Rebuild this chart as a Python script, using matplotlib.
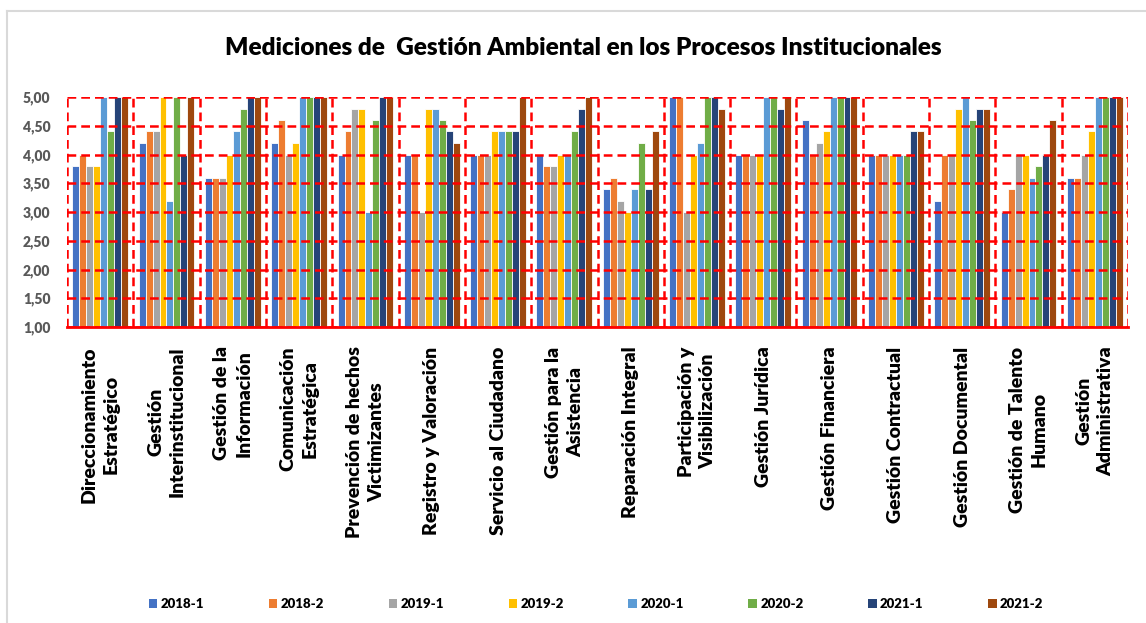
import matplotlib
matplotlib.use("Agg")
import matplotlib.pyplot as plt
import numpy as np
from matplotlib.lines import Line2D
from matplotlib.patches import Patch

plt.rcParams['font.family'] = ['Lato', 'DejaVu Sans']
WEIGHT = "heavy"

categories = [
    "Direccionamiento\nEstratégico",
    "Gestión\nInterinstitucional",
    "Gestión de la\nInformación",
    "Comunicación\nEstratégica",
    "Prevención de hechos\nVictimizantes",
    "Registro y Valoración",
    "Servicio al Ciudadano",
    "Gestión para la\nAsistencia",
    "Reparación Integral",
    "Participación y\nVisibilización",
    "Gestión Jurídica",
    "Gestión Financiera",
    "Gestión Contractual",
    "Gestión Documental",
    "Gestión de Talento\nHumano",
    "Gestión\nAdministrativa",
]

series_names = ["2018-1", "2018-2", "2019-1", "2019-2", "2020-1", "2020-2", "2021-1", "2021-2"]
colors = ["#4472C4", "#ED7D31", "#A5A5A5", "#FFC000", "#5B9BD5", "#70AD47", "#264478", "#9E480E"]

s2018_1 = [3.8, 4.2, 3.6, 4.2, 4.0, 4.0, 4.0, 4.0, 3.4, 5.0, 4.0, 4.6, 4.0, 3.2, 3.0, 3.6]
s2018_2 = [4.0, 4.4, 3.6, 4.6, 4.4, 4.0, 4.0, 3.8, 3.6, 5.0, 4.0, 4.0, 4.0, 4.0, 3.4, 3.6]
s2019_1 = [3.8, 4.4, 3.6, 4.0, 4.8, 3.0, 4.0, 3.8, 3.2, 3.0, 4.0, 4.2, 4.0, 4.0, 4.0, 4.0]
s2019_2 = [3.8, 5.0, 4.0, 4.2, 4.8, 4.8, 4.4, 4.0, 3.0, 4.0, 4.0, 4.4, 4.0, 4.8, 4.0, 4.4]
s2020_1 = [5.0, 3.2, 4.4, 5.0, 3.0, 4.8, 4.4, 4.0, 3.4, 4.2, 5.0, 5.0, 4.0, 5.0, 3.6, 5.0]
s2020_2 = [4.4, 5.0, 4.8, 5.0, 4.6, 4.6, 4.4, 4.4, 4.2, 5.0, 5.0, 5.0, 4.0, 4.6, 3.8, 5.0]
s2021_1 = [5.0, 4.0, 5.0, 5.0, 5.0, 4.4, 4.4, 4.8, 3.4, 5.0, 4.8, 5.0, 4.4, 4.8, 4.0, 5.0]
s2021_2 = [5.0, 5.0, 5.0, 5.0, 5.0, 4.2, 5.0, 5.0, 4.4, 4.8, 5.0, 5.0, 4.4, 4.8, 4.6, 5.0]
series_values = [s2018_1, s2018_2, s2019_1, s2019_2, s2020_1, s2020_2, s2021_1, s2021_2]

y_ticks = [1.0, 1.5, 2.0, 2.5, 3.0, 3.5, 4.0, 4.5, 5.0]
y_ticklabels = ["1,00", "1,50", "2,00", "2,50", "3,00", "3,50", "4,00", "4,50", "5,00"]

W, H = 1146, 623
fig = plt.figure(figsize=(W / 100, H / 100), dpi=100)
ax = fig.add_axes([67 / W, 1 - 327 / H, (1128 - 67) / W, (327 - 97) / H])

x = np.arange(len(categories))
bw = 0.105
n = len(series_values)
for i, (name, vals, c) in enumerate(zip(series_names, series_values, colors)):
    ax.bar(x + (i - (n - 1) / 2) * bw, vals, width=bw, color=c,
           edgecolor="white", linewidth=0.6, label=name, zorder=2)

ax.set_xlim(-0.5, len(categories) - 0.5)
ax.set_ylim(1.0, 5.0)
ax.set_yticks(y_ticks)
ax.set_yticklabels(y_ticklabels, fontsize=10, fontweight=WEIGHT, color="#595959")
ax.set_xticks(x)
ax.set_xticklabels(categories, rotation=90, fontsize=14, fontweight=WEIGHT,
                   ha="center", va="top", multialignment="center", linespacing=1.35)
ax.tick_params(axis="x", length=0, pad=14)
ax.tick_params(axis="y", length=0, pad=12)

ax.set_xticks(np.arange(-0.5, len(categories), 1.0), minor=True)
ax.tick_params(axis="x", which="minor", length=0)
dash = (0, (3.5, 2.0))
ax.grid(axis="y", which="major", color="#FF0000", linestyle=dash, linewidth=1.8, zorder=3)
ax.grid(axis="x", which="minor", color="#FF0000", linestyle=dash, linewidth=1.8, zorder=3)
ax.grid(axis="x", which="major", visible=False)
ax.set_axisbelow(False)

for s in ["top", "left", "right"]:
    ax.spines[s].set_visible(False)
ax.spines["bottom"].set_color("#FF0000")
ax.spines["bottom"].set_linewidth(2.0)

fig.text(583 / W, 1 - 48 / H, "Mediciones de  Gestión Ambiental en los Procesos Institucionales",
         ha="center", va="center", fontsize=17.6, fontweight=WEIGHT, color="#000000")

handles = [Patch(facecolor=c, edgecolor="none") for c in colors]
fig.legend(handles, series_names, loc="center", bbox_to_anchor=(596 / W, 1 - 604 / H),
           ncol=8, frameon=False, handlelength=0.65, handleheight=0.65,
           handletextpad=0.25, columnspacing=4.9,
           prop={"weight": WEIGHT, "size": 9.5})

# chart-area border
fig.add_artist(Line2D([7 / W, 7 / W], [0, 1 - 11 / H], transform=fig.transFigure,
                      color="#D9D9D9", linewidth=1.5))
fig.add_artist(Line2D([7 / W, 1], [1 - 11 / H, 1 - 11 / H], transform=fig.transFigure,
                      color="#D9D9D9", linewidth=1.5))

fig.savefig("out.png", dpi=100)
